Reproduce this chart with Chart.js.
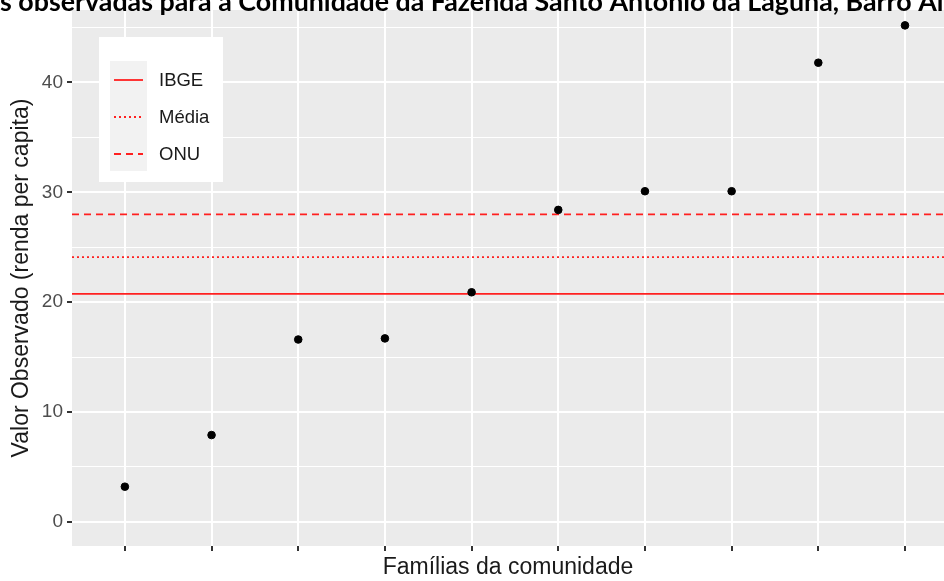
<!DOCTYPE html>
<html>
<head>
<meta charset="utf-8">
<script src="https://cdn.jsdelivr.net/npm/chart.js@4"></script>
<style>
  html, body { margin: 0; padding: 0; background: #fff; overflow: hidden; }
  canvas { display: block; }
</style>
</head>
<body>
<canvas id="chart" width="944" height="581"></canvas>
<script>
// Valores observados — ggplot-style scatter with reference lines

const titleText = 's observadas para a Comunidade da Fazenda Santo Antônio da Laguna, Barro Alto';
const families  = [1, 2, 3, 4, 5, 6, 7, 8, 9, 10];
const observed  = [3.2, 7.9, 16.6, 16.7, 20.9, 28.4, 30.1, 30.1, 41.8, 45.2];
const refNames  = ['IBGE', 'Média', 'ONU'];
const refValues = [20.75, 24.1, 28.0];
const refDash   = [[], [2, 3], [7, 5]];
const yTicks    = [0, 5, 10, 15, 20, 25, 30, 35, 40, 45];

const xMin = 0.39, xMax = 10.45;

Chart.defaults.font  = { family: '"Liberation Sans", Arial, sans-serif', size: 19 };
Chart.defaults.color = '#4d4d4d';

const refSets = refNames.map((name, i) => ({
  type: 'line',
  label: name,
  data: [{ x: xMin, y: refValues[i] }, { x: xMax, y: refValues[i] }],
  borderColor: '#ff2020',
  borderWidth: 1.8,
  borderDash: refDash[i],
  pointRadius: 0,
  pointHoverRadius: 0,
  order: 2,
}));

const panelBg = {
  id: 'panelBg',
  beforeDraw(chart) {
    const { ctx, chartArea: a } = chart;
    ctx.save();
    ctx.fillStyle = '#ffffff';
    ctx.fillRect(0, 0, chart.width, chart.height);
    ctx.fillStyle = '#ebebeb';
    ctx.fillRect(a.left, a.top, a.right - a.left, a.bottom - a.top);
    ctx.restore();
  },
  afterDraw(chart) {
    const ctx = chart.ctx;
    ctx.save();
    // clipped title at the top
    ctx.font = 'bold 20px Lato, "Noto Sans", sans-serif';
    const w = ctx.measureText(titleText.slice(0, -2)).width;
    const size = 20 * 944 / w;
    ctx.font = 'bold ' + size.toFixed(1) + 'px Lato, "Noto Sans", sans-serif';
    ctx.fillStyle = '#000';
    ctx.textBaseline = 'alphabetic';
    ctx.fillText(titleText, 0, 11);

    // legend
    ctx.fillStyle = '#ffffff';
    ctx.fillRect(99, 37, 124, 145);
    ctx.fillStyle = '#f2f2f2';
    ctx.fillRect(110, 61, 37, 110);
    const rows = [80, 117, 154];
    ctx.font = '18.5px "Liberation Sans", Arial, sans-serif';
    ctx.textBaseline = 'middle';
    refNames.forEach((name, i) => {
      ctx.strokeStyle = '#ff2020';
      ctx.lineWidth = 1.8;
      ctx.setLineDash(refDash[i]);
      ctx.beginPath();
      ctx.moveTo(114, rows[i]);
      ctx.lineTo(143, rows[i]);
      ctx.stroke();
      ctx.setLineDash([]);
      ctx.fillStyle = '#1a1a1a';
      ctx.fillText(name, 159, rows[i] + 1);
    });
    ctx.restore();
  },
};

new Chart(document.getElementById('chart'), {
  type: 'scatter',
  data: {
    datasets: [
      {
        label: 'Observado',
        data: families.map((f, i) => ({ x: f, y: observed[i] })),
        backgroundColor: '#000',
        borderColor: '#000',
        pointRadius: 3.8,
        pointHoverRadius: 3.8,
        order: 1,
      },
      ...refSets,
    ],
  },
  options: {
    responsive: false,
    animation: false,
    layout: { autoPadding: false, padding: { top: 10, right: 0, bottom: 0, left: 0 } },
    plugins: { legend: { display: false }, tooltip: { enabled: false } },
    scales: {
      x: {
        type: 'linear',
        min: xMin,
        max: xMax,
        afterBuildTicks: s => { s.ticks = families.map(v => ({ value: v })); },
        afterFit: s => { s.height = 35; s.paddingRight = 0; s.paddingLeft = 0; },
        ticks: { display: false },
        grid: { color: '#ffffff', lineWidth: 2, tickColor: '#333333', tickLength: 5 },
        border: { display: false },
        title: {
          display: true,
          text: 'Famílias da comunidade',
          color: '#1a1a1a',
          font: { size: 23 },
          padding: { top: 0, bottom: 0 },
        },
      },
      y: {
        min: -2.2,
        max: 46.6,
        afterBuildTicks: s => { s.ticks = yTicks.map(v => ({ value: v })); },
        afterFit: s => { s.width = 72; s.paddingTop = 0; s.paddingBottom = 0; },
        ticks: {
          padding: 4,
          callback: v => (v % 10 === 0 ? String(v) : ''),
        },
        grid: {
          color: '#ffffff',
          lineWidth: c => (c.tick && c.tick.value % 10 === 0 ? 2 : 1),
          tickColor: c => (c.tick && c.tick.value % 10 === 0 ? '#333333' : 'rgba(0,0,0,0)'),
          tickLength: 5,
        },
        border: { display: false },
        title: {
          display: true,
          text: 'Valor Observado (renda per capita)',
          color: '#1a1a1a',
          font: { size: 23 },
          padding: { top: 8, bottom: 0 },
        },
      },
    },
  },
  plugins: [panelBg],
});
</script>
</body>
</html>
